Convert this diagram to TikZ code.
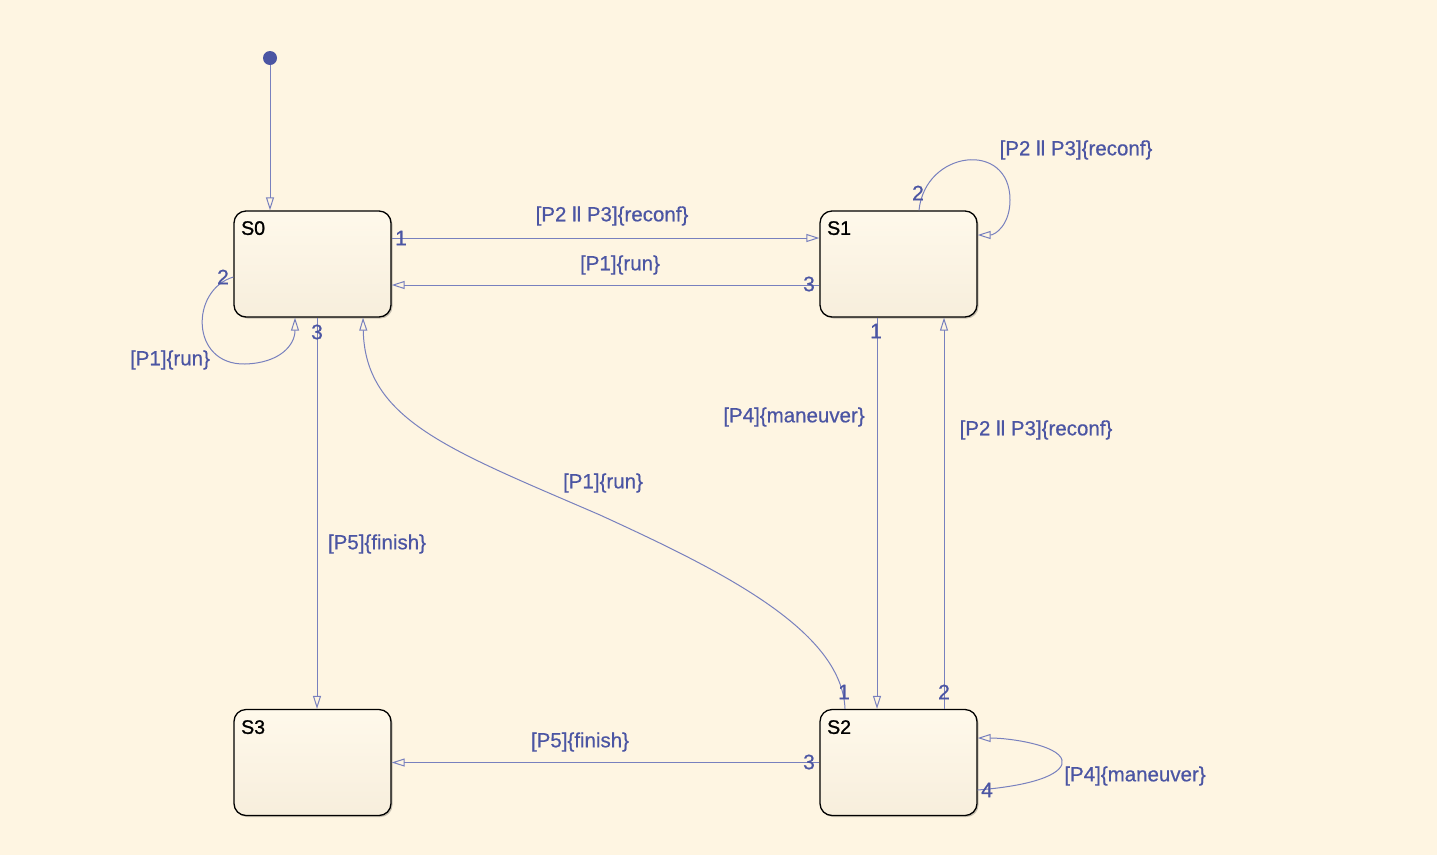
\documentclass[tikz,border=0pt]{standalone}
\usepackage{fontspec}
\setmainfont{Liberation Sans}
\newfontfamily\lblfont[FakeBold=0.6]{Liberation Sans}
\newfontfamily\namefont[FakeBold=1.2]{Liberation Sans}
\usetikzlibrary{arrows.meta,shadows,calc}
\definecolor{bg}{HTML}{FEF5E2}
\definecolor{lblue}{HTML}{4B55A3}
\definecolor{lineblue}{HTML}{7880BE}
\definecolor{boxtop}{HTML}{FFF9EB}
\definecolor{boxbot}{HTML}{F7EEDC}
\begin{document}
\begin{tikzpicture}[x=1pt,y=-1pt,
 state/.style={draw=black, line width=1.3pt, rounded corners=12pt, minimum width=157pt, minimum height=106pt,
   top color=boxtop, bottom color=boxbot,
   drop shadow={shadow xshift=1.5pt, shadow yshift=-1.5pt, opacity=.22, fill=black}, inner sep=0pt},
 statename/.style={anchor=north west, font=\namefont\fontsize{19.5}{21}\selectfont, text=black, inner sep=0pt},
 trans/.style={draw=lineblue, line width=1pt, -{Triangle[open,length=13pt,width=8pt]}},
 tlabel/.style={font=\lblfont\fontsize{20.5}{24}\selectfont, text=lblue, inner sep=0pt},
 port/.style={font=\lblfont\fontsize{21}{23}\selectfont, text=lblue, inner sep=0pt},
 initdot/.style={circle, fill=lblue, minimum size=14pt, inner sep=0pt}]
\fill[bg] (0,0) rectangle (1437,855);
\useasboundingbox (0,0) rectangle (1437,855);

% states
\node[state] (S0) at (312.5,264) {};
\node[state] (S1) at (898.5,264) {};
\node[state] (S2) at (898.5,762.5) {};
\node[state] (S3) at (312.5,762.5) {};
\node[statename] (n0) at (241,221) {S0};
\node[statename] (n1) at (827,221) {S1};
\node[statename] (n2) at (827,720) {S2};
\node[statename] (n3) at (241,720) {S3};

% initial
\node[initdot] (init) at (270,58) {};
\draw[trans] (init) -- ([xshift=-42.5pt]S0.north);

% S0 -> S1
\draw[trans] ([yshift=26pt]S0.east) -- ([yshift=26pt]S1.west);
\node[port] at (401,238) {1};
\node[tlabel] at (612,216) {[P2 ll P3]\{reconf\}};

% S1 -> S0
\draw[trans] ([yshift=-21pt]S1.west) -- ([yshift=-21pt]S0.east);
\node[port] at (809,284) {3};
\node[tlabel] at (620,265) {[P1]\{run\}};

% S0 self loop
\draw[trans] ([yshift=-13pt]S0.west) .. controls (190,290) and (190,365) .. (245,364)
  .. controls (280,363) and (295,345) .. ([xshift=-17.5pt]S0.south);
\node[port] at (223,277) {2};
\node[tlabel] at (170,360) {[P1]\{run\}};

% S0 -> S3
\draw[trans] ([xshift=4.5pt]S0.south) -- ([xshift=4.5pt]S3.north);
\node[port] at (317,332) {3};
\node[tlabel] at (377,544) {[P5]\{finish\}};

% S2 -> S0
\draw[trans] ([xshift=-53.5pt]S2.north) .. controls (842,630) and (720,570) .. (600,515)
  .. controls (450,450) and (365,420) .. ([xshift=50.5pt]S0.south);
\node[port] at (844,692) {1};
\node[tlabel] at (603,483) {[P1]\{run\}};

% S1 -> S2
\draw[trans] ([xshift=-21.5pt]S1.south) -- ([xshift=-21.5pt]S2.north);
\node[port] at (876,331) {1};
\node[tlabel] at (794,417) {[P4]\{maneuver\}};

% S2 -> S1
\draw[trans] ([xshift=45.5pt]S2.north) -- ([xshift=45.5pt]S1.south);
\node[port] at (944,692) {2};
\node[tlabel] at (1036,430) {[P2 ll P3]\{reconf\}};

% S1 self loop
\draw[trans] ([xshift=20.5pt]S1.north) .. controls (925,150) and (1010,140) .. (1010,200)
  .. controls (1010,225) and (995,235) .. ([yshift=29pt]S1.east);
\node[port] at (918,193) {2};
\node[tlabel] at (1076,150) {[P2 ll P3]\{reconf\}};

% S2 -> S3
\draw[trans] (S2.west) -- (S3.east);
\node[port] at (809,762) {3};
\node[tlabel] at (580,742) {[P5]\{finish\}};

% S2 self loop
\draw[trans] ([yshift=-27.5pt]S2.east) .. controls (1040,785) and (1065,772) .. (1062,760)
  .. controls (1058,745) and (1010,738) .. ([yshift=24.5pt]S2.east);
\node[port] at (987,790) {4};
\node[tlabel] at (1135,776) {[P4]\{maneuver\}};
\end{tikzpicture}
\end{document}
